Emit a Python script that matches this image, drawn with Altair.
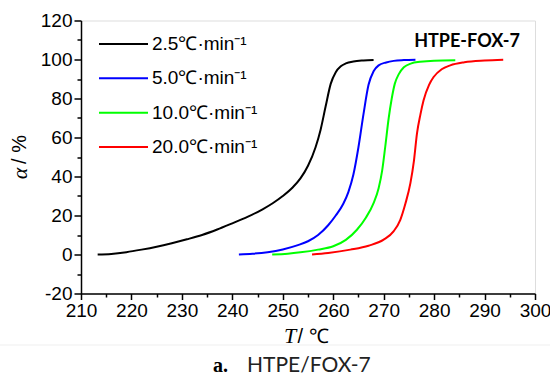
import altair as alt
import pandas as pd

# ---- data ----
T_25 = [213.3, 216, 219, 222, 225, 228, 231, 234, 237, 240, 243, 246, 248, 250, 252, 253.5, 255, 256.5, 257.5, 258.5, 259.5, 260.5, 261.5, 262.5, 264, 266, 268]
A_25 = [0, 0.3, 1.2, 2.5, 4, 5.8, 7.8, 10, 12.8, 16, 19.3, 23.2, 26.3, 30, 34.5, 39, 45.5, 55, 64, 76, 87.5, 93.5, 96.5, 98, 99, 99.5, 99.7]

T_50 = [241.3, 244, 247, 250, 253, 255, 257, 259, 260.5, 262, 263, 264, 265, 266, 267, 268, 269, 270.5, 272, 274, 276.3]
A_50 = [0, 0.4, 1.2, 2.6, 4.8, 6.8, 10, 15, 20, 26, 32, 41, 55, 72, 87, 94, 97, 98.5, 99.3, 99.7, 99.9]

T_100 = [247.9, 251, 253.5, 257, 260, 262.5, 264.7, 266.5, 268, 269, 269.7, 270.3, 271, 271.6, 272.2, 273, 274, 275.5, 277.2, 280, 284.2]
A_100 = [0, 0.4, 1.1, 2.5, 4.2, 7.5, 12.7, 19, 26.4, 34, 43, 55, 70, 80, 87.5, 92.5, 96, 98, 98.8, 99.4, 99.6]

T_200 = [255.8, 259, 263.4, 267, 270, 272, 273.3, 274.3, 275.3, 276, 276.6, 277.3, 277.9, 279, 279.9, 281.5, 283.2, 286, 290, 293.7]
A_200 = [0, 0.8, 2.5, 4.5, 7.6, 12, 17.8, 26, 36.6, 48, 62, 72, 79, 87, 91, 95, 97, 98.6, 99.5, 99.9]

series_names = ["2.5℃·min⁻¹", "5.0℃·min⁻¹", "10.0℃·min⁻¹", "20.0℃·min⁻¹"]
series_colors = ["#000000", "#0000ff", "#00ff00", "#ff0000"]

x_major = [210, 220, 230, 240, 250, 260, 270, 280, 290, 300]
x_minor = [215, 225, 235, 245, 255, 265, 275, 285, 295]
y_major = [-20, 0, 20, 40, 60, 80, 100, 120]
y_minor = [-10, 10, 30, 50, 70, 90, 110]

# ---- tables ----
rows = []
for name, Ts, As in zip(series_names, [T_25, T_50, T_100, T_200], [A_25, A_50, A_100, A_200]):
    for t, a in zip(Ts, As):
        rows.append({"series": name, "T": t, "alpha": a})
df = pd.DataFrame(rows)
leg = pd.DataFrame({"series": series_names, "row": list(range(len(series_names)))})
one = pd.DataFrame({"k": [0]})

TICKFONT = "Liberation Sans, Arial, sans-serif"
XD = [210, 300]
YD = [-20, 120]
LBL = "'' + datum.value"

color = alt.Color("series:N", scale=alt.Scale(domain=series_names, range=series_colors), legend=None)

lines = alt.Chart(df).mark_line(strokeWidth=2, interpolate="monotone").encode(
    x=alt.X("T:Q", scale=alt.Scale(domain=XD, nice=False, zero=False),
            axis=alt.Axis(values=x_major, title=None, orient="bottom", tickSize=6, labelPadding=2,
                          labelFont=TICKFONT, labelFontSize=19, labelColor="#000", grid=False,
                          labelOverlap=False, labelExpr=LBL, labelFlush=False,
                          domainColor="#000", tickColor="#000", domainWidth=1.5, tickWidth=1.5)),
    y=alt.Y("alpha:Q", scale=alt.Scale(domain=YD, nice=False, zero=False),
            axis=alt.Axis(values=y_major, title=None, orient="left", tickSize=7, labelPadding=2,
                          labelFont=TICKFONT, labelFontSize=19, labelColor="#000", grid=False,
                          labelOverlap=False, labelExpr=LBL, labelFlush=False,
                          domainColor="#000", tickColor="#000", domainWidth=1.5, tickWidth=1.5)),
    color=color,
    detail="series:N",
)

minor = alt.Chart(df).mark_point(opacity=0).encode(
    x=alt.X("T:Q", scale=alt.Scale(domain=XD, nice=False, zero=False),
            axis=alt.Axis(values=x_minor, title=None, orient="bottom", tickSize=3.5, labels=False,
                          domain=False, grid=False, tickColor="#000", tickWidth=1.5)),
    y=alt.Y("alpha:Q", scale=alt.Scale(domain=YD, nice=False, zero=False),
            axis=alt.Axis(values=y_minor, title=None, orient="left", tickSize=4, labels=False,
                          domain=False, grid=False, tickColor="#000", tickWidth=1.5)),
)

ly = alt.Y("row:Q", scale=alt.Scale(domain=[0, 3], range=[23.5, 126.5]), axis=None)
leg_lines = alt.Chart(leg).mark_rule(strokeWidth=2).encode(
    x=alt.value(18), x2=alt.value(67), y=ly, color=color)
leg_text = alt.Chart(leg).mark_text(align="left", baseline="middle", font=TICKFONT, fontSize=19, color="#000").encode(
    x=alt.value(71), y=ly, text="series:N")

def label(txt, x, y, **kw):
    return alt.Chart(one).mark_text(**kw).encode(x=alt.value(x), y=alt.value(y), text=alt.value(txt))

tag = label("HTPE-FOX-7", 439, 26.5, align="right", baseline="alphabetic", font="Lato, Open Sans, sans-serif",
            fontWeight="bold", fontSize=18, color="#000")
ya1 = label("α", -61, 153, angle=270, align="center", baseline="middle", font="Liberation Serif, Times New Roman, serif",
            fontStyle="italic", fontSize=22, color="#000")
ya2 = label("/ %", -61, 129, angle=270, align="center", baseline="middle", font=TICKFONT, fontSize=20, color="#000")
xa1 = label("T", 209, 322.5, align="center", baseline="alphabetic", font="Liberation Serif, Times New Roman, serif",
            fontStyle="italic", fontSize=22, color="#000")
xa2 = label("/ ℃", 232, 322.5, align="center", baseline="alphabetic", font=TICKFONT, fontSize=20, color="#000")
sep = alt.Chart(one).mark_rule(color="#efefef", strokeWidth=1).encode(
    x=alt.value(-81), x2=alt.value(469), y=alt.value(324.5))
cap1 = label("a.", 132, 351.5, align="left", baseline="alphabetic", font="Liberation Serif, serif",
             fontWeight="bold", fontSize=20, color="#000")
cap2 = label("HTPE/FOX-7", 166, 351.5, align="left", baseline="alphabetic", font="Lato, Open Sans, sans-serif",
             fontSize=21, color="#222")

chart = alt.layer(lines, minor, leg_lines, leg_text, tag, ya1, ya2, xa1, xa2, sep, cap1, cap2).resolve_scale(
    x="independent", y="independent", color="shared"
).resolve_axis(x="independent", y="independent").properties(
    width=454, height=273,
    autosize=alt.AutoSizeParams(type="none"),
    padding={"left": 81, "top": 20.5, "right": 15, "bottom": 82.5},
).configure_view(stroke="#000", strokeWidth=1.5).configure(background="white")

chart.save("out.html", embed_options={"renderer": "svg", "actions": False})
